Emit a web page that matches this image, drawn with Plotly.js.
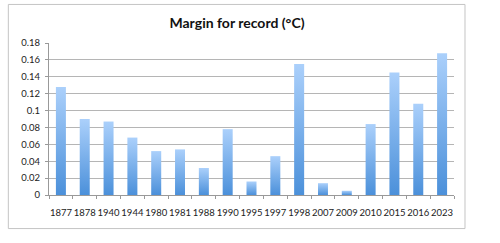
<!DOCTYPE html>
<html><head><meta charset="utf-8">
<script src="https://cdn.plot.ly/plotly-3.0.1.min.js"></script>
<style>html,body{margin:0;padding:0;background:#fff}</style>
</head><body>
<div id="chart" style="width:500px;height:243px"></div>
<script>
const years = ["1877","1878","1940","1944","1980","1981","1988","1990","1995","1997","1998","2007","2009","2010","2015","2016","2023"];
const margins = [0.128,0.090,0.087,0.068,0.052,0.054,0.032,0.078,0.016,0.046,0.155,0.014,0.005,0.084,0.145,0.108,0.168];
const yTicks = [0,0.02,0.04,0.06,0.08,0.1,0.12,0.14,0.16,0.18];
const yTickText = ["0","0.02","0.04","0.06","0.08","0.1","0.12","0.14","0.16","0.18"];

const font = "Lato, 'Open Sans', sans-serif";
const L = 48.7, R = 454, T = 42.7, B = 195.3;
const W = 500, H = 243;
const px = x => (x - L) / (R - L);
const py = y => (B - y) / (B - T);

const trace = {
  type: "bar", x: years, y: margins,
  marker: {color: "#6fa9ea", line: {width: 0}},
  hoverinfo: "x+y"
};
const layout = {
  width: W, height: H,
  margin: {l: L, r: W - R, t: T, b: H - B, pad: 0},
  paper_bgcolor: "#fff", plot_bgcolor: "#fff",
  bargap: 0.58,
  showlegend: false,
  title: {text: "<b>Margin for record (°C)</b>", x: 237/W, xanchor: "center", y: 1 - 23/H, yanchor: "middle",
          font: {family: font, size: 14, color: "#111"}},
  xaxis: {type: "category", tickson: "boundaries", ticks: "outside", ticklen: 3, tickcolor: "#999",
          showline: true, linecolor: "#999", linewidth: 1, showgrid: false, tickangle: 0,
          tickfont: {family: font, size: 9.5, color: "#222"}, ticklabelstandoff: 9, fixedrange: true},
  yaxis: {range: [0, 0.18], tickvals: yTicks, ticktext: yTickText, ticks: "outside", ticklen: 3, tickcolor: "#999",
          showline: true, linecolor: "#999", linewidth: 1, showgrid: true, gridcolor: "#b5b5b5", gridwidth: 1,
          zeroline: false, tickfont: {family: font, size: 9.5, color: "#222"}, ticklabelstandoff: 3, fixedrange: true},
  shapes: [{type: "rect", xref: "paper", yref: "paper",
            x0: px(8), x1: px(465), y0: py(229), y1: py(4),
            line: {color: "#c4c4c4", width: 1}, fillcolor: "rgba(0,0,0,0)", layer: "below"}]
};
Plotly.newPlot("chart", [trace], layout, {staticPlot: true, displayModeBar: false}).then(gd => {
  const svg = gd.querySelector("svg.main-svg");
  const ns = "http://www.w3.org/2000/svg";
  let defs = svg.querySelector("defs");
  if (!defs) { defs = document.createElementNS(ns, "defs"); svg.insertBefore(defs, svg.firstChild); }
  const g = document.createElementNS(ns, "linearGradient");
  g.setAttribute("id", "barGrad");
  g.setAttribute("x1", "0"); g.setAttribute("y1", "0"); g.setAttribute("x2", "0"); g.setAttribute("y2", "1");
  [["0", "#abd0fb"], ["1", "#4b90da"]].forEach(([o, c]) => {
    const s = document.createElementNS(ns, "stop");
    s.setAttribute("offset", o); s.setAttribute("stop-color", c);
    g.appendChild(s);
  });
  defs.appendChild(g);
  gd.querySelectorAll(".barlayer .point path").forEach(p => { p.style.fill = "url(#barGrad)"; });
});
</script>
</body></html>
